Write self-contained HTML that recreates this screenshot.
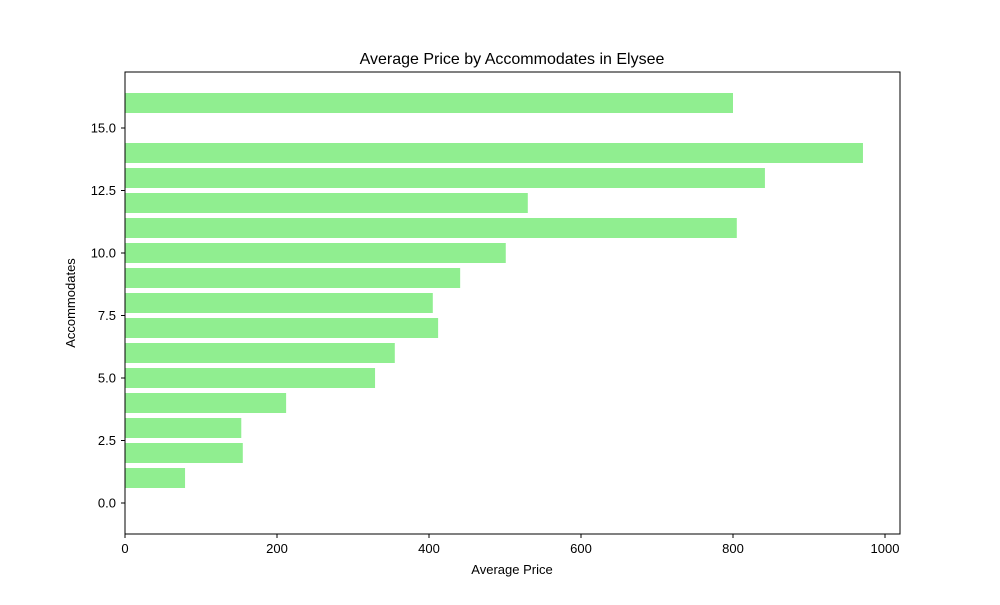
<!DOCTYPE html>
<html><head><meta charset="utf-8"><style>
body{margin:0;background:#fff;font-family:"Liberation Sans","DejaVu Sans",sans-serif;}
</style></head><body>
<svg id="chart" width="1000" height="600" xmlns="http://www.w3.org/2000/svg">
<rect width="1000" height="600" fill="#fff"/>
<text x="512" y="64" text-anchor="middle" font-size="16">Average Price by Accommodates in Elysee</text>
<g id="bars"></g>
<rect x="125" y="72" width="775" height="462" fill="none" stroke="#000" stroke-width="1"/>
<g id="xt"></g><g id="yt"></g>
<text x="512" y="574" text-anchor="middle" font-size="13">Average Price</text>
<text x="75" y="303" text-anchor="middle" font-size="13" transform="rotate(-90 75 303)">Accommodates</text>
</svg>
<script>
const categories=[1,2,3,4,5,6,7,8,9,10,11,12,13,14,16];
const values=[79,155,153,212,329,355,412,405,441,501,805,530,842,971,800];
const xTicks=[0,200,400,600,800,1000];
const yTicks=[0,2.5,5,7.5,10,12.5,15];
const ns="http://www.w3.org/2000/svg";
const X=v=>125+v*0.76;
const Y=v=>503-v*25;
const bars=document.getElementById('bars');
categories.forEach((c,i)=>{
 const r=document.createElementNS(ns,'rect');
 r.setAttribute('x',X(0));r.setAttribute('width',X(values[i])-X(0));
 r.setAttribute('y',Y(c+0.4));r.setAttribute('height',Y(c-0.4)-Y(c+0.4));
 r.setAttribute('fill','#90ee90');
 
 
 bars.appendChild(r);
});
const xt=document.getElementById('xt');
xTicks.forEach(t=>{
 const l=document.createElementNS(ns,'line');
 l.setAttribute('x1',X(t));l.setAttribute('x2',X(t));l.setAttribute('y1',534);l.setAttribute('y2',538);l.setAttribute('stroke','#000');
 
 
 xt.appendChild(l);
 const tx=document.createElementNS(ns,'text');
 tx.setAttribute('x',X(t));tx.setAttribute('y',553);tx.setAttribute('text-anchor','middle');tx.setAttribute('font-size','13');
 tx.textContent=t;
 
 
 xt.appendChild(tx);
});
const yt=document.getElementById('yt');
yTicks.forEach(t=>{
 const l=document.createElementNS(ns,'line');
 l.setAttribute('x1',121);l.setAttribute('x2',125);l.setAttribute('y1',Y(t));l.setAttribute('y2',Y(t));l.setAttribute('stroke','#000');
 
 
 yt.appendChild(l);
 const tx=document.createElementNS(ns,'text');
 tx.setAttribute('x',116);tx.setAttribute('y',Y(t)+4.5);tx.setAttribute('text-anchor','end');tx.setAttribute('font-size','13');
 tx.textContent=t.toFixed(1);
 
 
 yt.appendChild(tx);
});
</script>
</body></html>
